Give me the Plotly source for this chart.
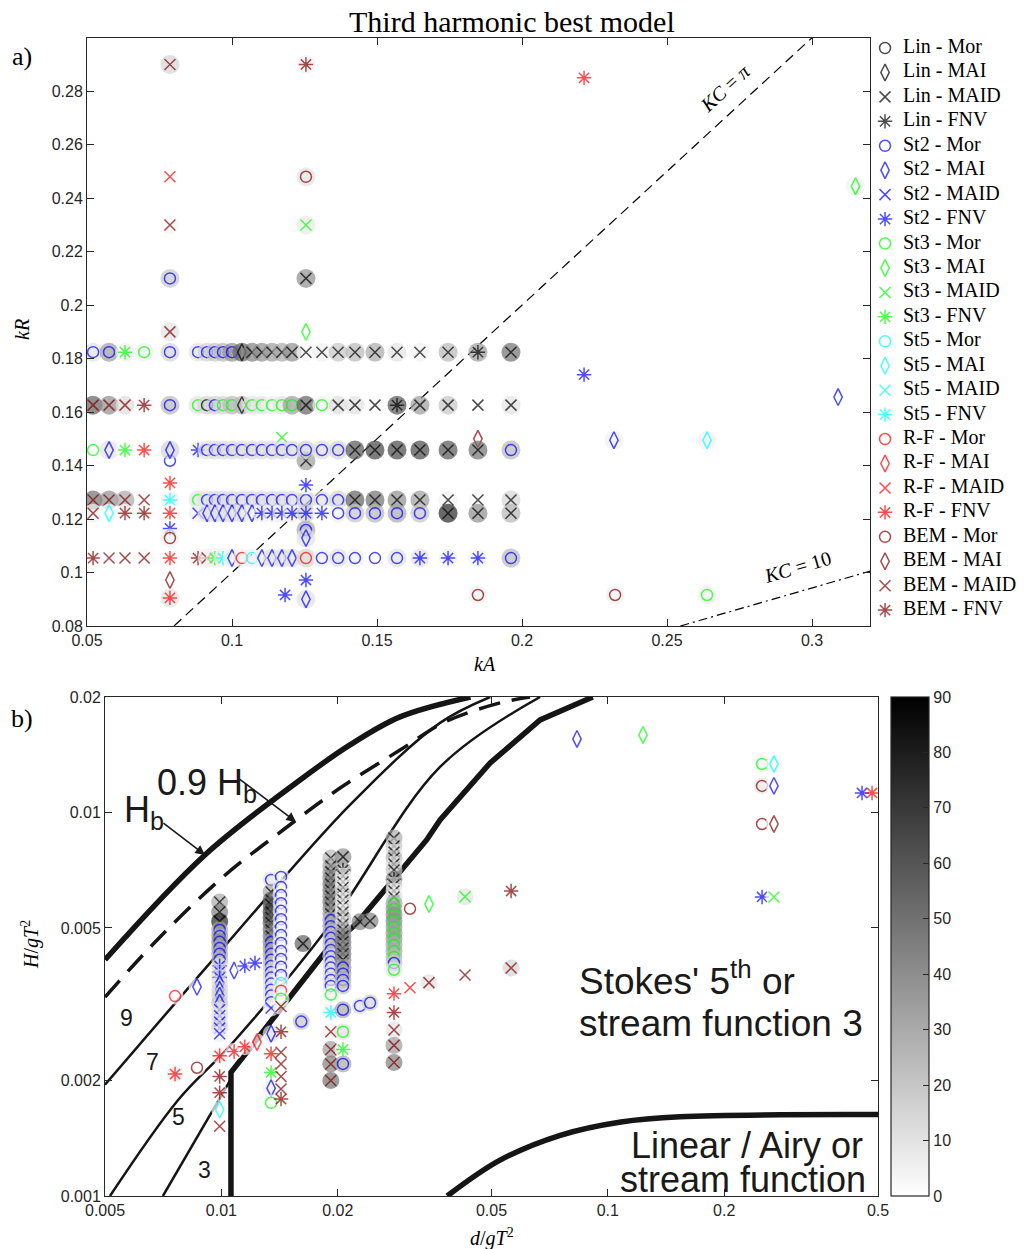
import numpy as np
import plotly.graph_objects as go
from plotly.colors import sample_colorscale

# ---------------- model styling ----------------
THEORY_COLORS = {"Lin": "#000000", "St2": "#0000FF", "St3": "#00FF00",
                 "St5": "#00FFFF", "R-F": "#FF0000", "BEM": "#800000"}
FORCE_SYMBOLS = {"Mor": "circle-open", "MAI": "diamond-tall-open",
                 "MAID": "x-thin-open", "FNV": "asterisk-open"}
FORCE_SIZE = {"Mor": 11, "MAI": 12, "MAID": 11, "FNV": 12}
theories = ["Lin", "St2", "St3", "St5", "R-F", "BEM"]
forces = ["Mor", "MAI", "MAID", "FNV"]
legend_labels = [f"{t} - {f}" for t in theories for f in forces]
GREY = [[0, "rgb(255,255,255)"], [1, "rgb(0,0,0)"]]

# ---------------- panel a) data ----------------
kA_grid = [0.0521, 0.0576, 0.0631, 0.0697, 0.0786,
           0.0883, 0.0914, 0.0941, 0.0969, 0.1000, 0.1034, 0.1069, 0.1103,
           0.1138, 0.1172, 0.1207, 0.1255,
           0.1310, 0.1366, 0.1424, 0.1493, 0.1569, 0.1648, 0.1745, 0.1848, 0.1962]

row_kR = [0.1824, 0.1626, 0.1458, 0.1271, 0.1222, 0.1054]

row1_model = ["St2-Mor", "St2-Mor", "St3-FNV", "St3-Mor", "St2-Mor",
              "St2-Mor", "St2-Mor", "St2-Mor", "St2-Mor", "St2-Mor", "Lin-MAI", "Lin-MAID", "Lin-MAID",
              "Lin-MAID", "Lin-MAID", "Lin-MAID", "Lin-MAID",
              "Lin-MAID", "Lin-MAID", "Lin-MAID", "Lin-MAID", "Lin-MAID", "Lin-MAID", "Lin-MAID", "Lin-FNV", "Lin-MAID"]
row1_bg = [10, 35, 5, 5, 15, 10, 15, 20, 25, 40, 55, 45, 40, 35, 30, 40, 3, 5, 20, 25, 30, 10, 5, 25, 35, 50]

row2_model = ["BEM-MAID", "BEM-MAID", "BEM-MAID", "BEM-FNV", "St2-Mor",
              "St3-Mor", "Lin-Mor", "St2-Mor", "St3-Mor", "St3-Mor", "Lin-MAI", "St3-Mor", "St3-Mor",
              "St3-Mor", "St3-Mor", "St3-Mor", "Lin-MAID",
              "St3-Mor", "Lin-MAID", "Lin-MAID", "Lin-MAID", "Lin-FNV", "Lin-MAID", "Lin-MAID", "Lin-MAID", "Lin-MAID"]
row2_bg = [55, 40, 12, 3, 25, 10, 15, 15, 15, 25, 25, 10, 10, 5, 10, 35, 55, 5, 12, 10, 0, 60, 35, 20, 0, 10]

row3_model = ["St3-Mor", "St2-MAI", "St3-FNV", "R-F-FNV", "St2-MAI",
              "St2-FNV", "St2-Mor", "St2-Mor", "St2-Mor", "St2-Mor", "St2-Mor", "St2-Mor", "St2-Mor",
              "St2-Mor", "St2-Mor", "St2-Mor", "St2-Mor",
              "St2-Mor", "St2-Mor", "Lin-MAID", "Lin-MAID", "Lin-MAID", "Lin-MAID", "Lin-MAID", "Lin-MAID", "St2-Mor"]
row3_bg = [0, 10, 0, 0, 15, 5, 10, 12, 12, 12, 12, 12, 12, 12, 12, 12, 15, 12, 15, 60, 65, 65, 65, 60, 50, 25]

row4_model = ["BEM-MAID", "BEM-MAID", "BEM-MAID", "BEM-MAID", "St5-FNV",
              "St3-Mor", "St2-Mor", "St2-Mor", "St2-Mor", "St2-Mor", "St2-Mor", "St2-Mor", "St2-Mor",
              "St2-Mor", "St2-Mor", "St2-Mor", "St2-Mor",
              "St2-Mor", "St2-Mor", "Lin-MAID", "Lin-MAID", "Lin-MAID", "Lin-MAID", "Lin-MAID", "Lin-MAID", "Lin-MAID"]
row4_bg = [50, 40, 30, 3, 5, 10, 10, 12, 12, 12, 12, 12, 12, 12, 12, 12, 15, 10, 15, 55, 50, 40, 35, 5, 3, 15]

row5_model = ["BEM-MAID", "St5-MAI", "BEM-FNV", "BEM-FNV", "R-F-FNV",
              "St2-MAID", "St2-MAI", "St2-MAI", "St2-MAI", "St2-MAI", "St2-MAI", "St2-MAI", "St2-FNV",
              "St2-FNV", "St2-FNV", "St2-FNV", "St2-FNV",
              "St2-FNV", "St2-Mor", "St2-Mor", "St2-Mor", "St2-Mor", "St2-Mor", "Lin-MAID", "Lin-MAID", "Lin-MAID"]
row5_bg = [5, 0, 0, 0, 0, 5, 10, 10, 10, 10, 10, 5, 5, 5, 5, 5, 15, 0, 5, 20, 25, 30, 20, 75, 40, 25]

row6_model = ["BEM-FNV", "BEM-MAID", "BEM-MAID", "BEM-MAID", "R-F-FNV",
              "BEM-FNV", "BEM-MAID", "St3-FNV", "St5-FNV", "St2-MAI", "R-F-Mor", "St5-Mor", "St2-MAI",
              "St2-MAI", "St2-MAI", "St2-MAI", "R-F-Mor",
              "St2-Mor", "St2-Mor", "St2-Mor", "St2-Mor", "St2-Mor", "St2-FNV", "St2-FNV", "St2-FNV", "St2-Mor"]
row6_bg = [0, 0, 0, 3, 0, 5, 5, 5, 5, 5, 5, 5, 5, 10, 10, 10, 15, 5, 10, 5, 0, 10, 10, 5, 5, 25]

# isolated points partly hidden by the rows (drawn first)
pre_kA = [0.1172, 0.1848, 0.1255, 0.0786]
pre_kR = [0.1505, 0.1500, 0.1418, 0.1418]
pre_model = ["St3-MAID", "BEM-MAI", "Lin-MAID", "St2-Mor"]
pre_bg = [0, 0, 35, 0]

# isolated points drawn on top
post_kA = [0.0786, 0.1255, 0.2214, 0.0786, 0.1255, 0.3150, 0.0786, 0.1255, 0.0786, 0.1255,
           0.0786, 0.1255, 0.2214, 0.3090, 0.2317, 0.2638, 0.0786, 0.1255, 0.0786, 0.0786,
           0.1255, 0.1255, 0.0786, 0.1255, 0.1183, 0.0786, 0.1255, 0.1848, 0.2321, 0.2638]
post_kR = [0.2900, 0.2900, 0.2850, 0.2480, 0.2480, 0.2445, 0.2300, 0.2300, 0.2100, 0.2100,
           0.1900, 0.1900, 0.1740, 0.1656, 0.1495, 0.1495, 0.1335, 0.1327, 0.1165, 0.1129,
           0.1159, 0.1129, 0.0972, 0.0972, 0.0916, 0.0905, 0.0900, 0.0916, 0.0916, 0.0916]
post_model = ["BEM-MAID", "BEM-FNV", "R-F-FNV", "R-F-MAID", "BEM-Mor", "St3-MAI", "BEM-MAID", "St3-MAID",
              "St2-Mor", "Lin-MAID", "BEM-MAID", "St3-MAI", "St2-FNV", "St2-MAI", "St2-MAI", "St5-MAI",
              "R-F-FNV", "St2-FNV", "St2-FNV", "BEM-Mor", "St2-Mor", "St2-MAI", "BEM-MAI", "St2-FNV",
              "St2-FNV", "R-F-FNV", "St2-MAI", "BEM-Mor", "BEM-Mor", "St3-Mor"]
post_bg = [15, 5, 0, 0, 10, 5, 3, 8, 20, 40, 10, 0, 0, 0, 5, 5, 0, 0, 0, 5,
           30, 10, 0, 0, 0, 10, 10, 5, 5, 5]

# reference lines KC = pi (kR = kA) and KC = 10
kc_pi_kA = [0.08, 0.30]
kc_pi_kR = [0.08, 0.30]
kc_10_kA = [0.2546, 0.32]
kc_10_kR = [0.08, 0.1005]

# ---------------- panel b) data ----------------
bot_d = ([0.00759, 0.00865, 0.00759, 0.00865] +
         [0.0099] * 26 +
         [0.01079, 0.0115, 0.01222, 0.01079, 0.0115, 0.01237] +
         [0.01345] * 26 +
         [0.01427] * 23 +
         [0.01627, 0.0161] +
         [0.0192] * 28 +
         [0.02064] * 25 +
         [0.02284, 0.02425, 0.02284, 0.02425] +
         [0.02797] * 27 +
         [0.03077, 0.03445, 0.03077, 0.03445, 0.0427, 0.0562, 0.0427, 0.0562,
          0.0832, 0.1233, 0.2506, 0.269, 0.2506, 0.269, 0.2506, 0.269, 0.2506, 0.269, 0.4546, 0.4826])
bot_H = ([0.00332, 0.00351, 0.00208, 0.00216] +
         [0.00584, 0.0055, 0.0052, 0.00494, 0.00476, 0.0046, 0.00443, 0.00428, 0.00413, 0.00398,
          0.00384, 0.00371, 0.00358, 0.00345, 0.00333, 0.00319, 0.00306, 0.00295, 0.00284, 0.00274,
          0.00265, 0.00232, 0.00205, 0.00186, 0.00168, 0.00152] +
         [0.00387, 0.00398, 0.00405, 0.00238, 0.00245, 0.00252] +
         [0.00667, 0.0062, 0.00591, 0.00575, 0.0055, 0.00532, 0.00516, 0.00494, 0.00476, 0.0046,
          0.00443, 0.00428, 0.00413, 0.00398, 0.00384, 0.00371, 0.00358, 0.00345, 0.00333, 0.0032,
          0.00309, 0.00265, 0.00235, 0.0021, 0.00191, 0.00175] +
         [0.00679, 0.00639, 0.00609, 0.0058, 0.00554, 0.00527, 0.00503, 0.00479, 0.00457, 0.00435,
          0.00415, 0.00396, 0.00377, 0.00359, 0.00343, 0.00327, 0.00312, 0.00268, 0.00237, 0.00221,
          0.00205, 0.0019, 0.00179] +
         [0.00455, 0.00285] +
         [0.00761, 0.00725, 0.007, 0.00675, 0.00651, 0.00628, 0.00606, 0.00584, 0.00564, 0.00544,
          0.00524, 0.00505, 0.00488, 0.00471, 0.00454, 0.00438, 0.00422, 0.00408, 0.00394, 0.0038,
          0.00366, 0.00353, 0.00335, 0.00301, 0.00268, 0.00241, 0.00221, 0.002] +
         [0.00766, 0.00708, 0.00683, 0.00659, 0.00637, 0.00613, 0.00591, 0.00571, 0.0055, 0.00531,
          0.00512, 0.00494, 0.00476, 0.0046, 0.00443, 0.00428, 0.00413, 0.00394, 0.0038, 0.00366,
          0.00353, 0.00306, 0.00268, 0.00241, 0.00221] +
         [0.00519, 0.00521, 0.00313, 0.00319] +
         [0.00858, 0.00818, 0.00788, 0.00761, 0.00734, 0.00708, 0.0067, 0.00647, 0.00624, 0.00602,
          0.0058, 0.0056, 0.0054, 0.00521, 0.00503, 0.00485, 0.00468, 0.00451, 0.00435, 0.0042,
          0.00405, 0.00389, 0.00337, 0.00301, 0.00271, 0.00247, 0.00223] +
         [0.00561, 0.00577, 0.00349, 0.0036, 0.00603, 0.00624, 0.00377, 0.00393,
          0.01555, 0.01593, 0.01338, 0.01338, 0.01173, 0.01173, 0.00933, 0.00933, 0.00602, 0.00602,
          0.01124, 0.01124])
bot_model = (["R-F-Mor", "St2-MAI", "R-F-FNV", "BEM-Mor"] +
             ["Lin-MAID"] * 3 + ["St2-Mor"] * 6 + ["St2-FNV"] * 3 + ["St2-MAI"] * 4 + ["St2-MAID"] * 5 +
             ["R-F-FNV", "BEM-FNV", "BEM-FNV", "St5-MAI", "BEM-MAID"] +
             ["St2-MAI", "St2-FNV", "St2-FNV", "R-F-FNV", "R-F-FNV", "R-F-MAI"] +
             ["St2-Mor"] + ["Lin-MAID"] * 8 + ["St2-Mor"] * 11 +
             ["St2-MAID", "St2-MAI", "R-F-FNV", "St3-FNV", "St2-MAI", "St3-Mor"] +
             ["St2-Mor"] * 13 + ["St5-Mor", "R-F-Mor", "St3-Mor", "BEM-MAID"] +
             ["BEM-FNV", "BEM-MAID", "BEM-MAID", "BEM-MAID", "BEM-MAID", "BEM-FNV"] +
             ["Lin-MAID", "St2-Mor"] +
             ["Lin-MAID"] * 10 + ["St2-Mor"] * 12 + ["St3-Mor", "St5-FNV"] + ["BEM-MAID"] * 4 +
             ["Lin-MAID", "Lin-FNV"] + ["Lin-MAID"] * 15 + ["St2-Mor"] * 5 + ["St3-Mor", "St3-FNV", "St2-Mor"] +
             ["Lin-MAID", "Lin-MAID", "St2-Mor", "St2-Mor"] +
             ["Lin-MAID"] * 6 + ["Lin-FNV"] + ["Lin-MAID"] * 3 + ["St3-Mor"] * 10 + ["St2-Mor", "St3-Mor"] +
             ["R-F-FNV", "BEM-FNV", "BEM-MAID", "BEM-MAID", "BEM-MAID"] +
             ["BEM-Mor", "St3-MAI", "R-F-MAID", "BEM-MAID", "St3-MAID", "BEM-FNV", "BEM-MAID", "BEM-MAID",
              "St2-MAI", "St3-MAI", "St3-Mor", "St5-MAI", "BEM-Mor", "St2-MAI", "BEM-Mor", "BEM-MAI",
              "St2-FNV", "St3-MAID", "St2-FNV", "R-F-FNV"])
bot_bg = ([0, 0, 5, 0] +
          [30, 45, 75, 30, 35, 40, 30, 30, 25, 10, 10, 10, 10, 15, 15, 20, 10, 10, 10, 15, 5, 5, 0, 0, 0, 0] +
          [0, 0, 0, 0, 0, 0] +
          [10, 30, 50, 60, 65, 60, 55, 50, 45, 40, 35, 30, 25, 20, 15, 15, 10, 10, 10, 5, 5, 10, 0, 0, 5, 0] +
          [5, 3, 3, 3, 3, 3, 3, 3, 3, 3, 3, 3, 3, 3, 3, 3, 3, None, None, None, None, None, None] +
          [55, 20] +
          [25, 30, 35, 40, 45, 45, 40, 45, 40, 35, 30, 30, 25, 25, 20, 20, 15, 15, 10, 10, 10, 10, 5, 5, 5, 35, 45, 50] +
          [40, 30, 5, 10, 5, 20, 5, 10, 5, 20, 10, 30, 40, 45, 40, 45, 40, 35, 30, 25, 20, 30, 10, 0, 30] +
          [45, 45, 10, 15] +
          [30, 20, 10, 25, 10, 20, 40, 15, 5, 10, 30, 35, 40, 40, 35, 35, 35, 30, 30, 25, 20, 10, 0, 0, 10, 35, 45] +
          [0, 0, 0, 10, 10, 0, 0, 15, None, None, 5, 3, 8, 0, 0, 0, None, 0, None, None])

# background diagram curves (Le Mehaute type)
hb_d = [0.005, 0.00907, 0.01598, 0.02152, 0.0290, 0.0441]
hb_H = [0.00413, 0.00775, 0.01215, 0.0150, 0.01775, 0.0200]
hb09_d = [0.005, 0.00682, 0.0101, 0.01444, 0.02028, 0.0290, 0.0379, 0.0526, 0.0629]
hb09_H = [0.0033, 0.00465, 0.00679, 0.0090, 0.01158, 0.01455, 0.01722, 0.0193, 0.0200]
sf97_d = [0.005, 0.0101, 0.02152, 0.0368, 0.0496]
sf97_H = [0.00195, 0.00443, 0.01046, 0.01712, 0.0200]
sf75_d = [0.00515, 0.00773, 0.01059, 0.0191, 0.0368, 0.0668]
sf75_H = [0.0010, 0.00178, 0.00248, 0.00509, 0.01314, 0.0200]
sf53_d = [0.00706, 0.01053]
sf53_H = [0.0010, 0.0020]
urs_d = [0.01059, 0.01059, 0.01874, 0.02244, 0.03397, 0.0368, 0.0496, 0.0668, 0.0914]
urs_H = [0.0010, 0.0021, 0.00438, 0.00515, 0.00848, 0.00956, 0.01346, 0.01743, 0.0200]
lin_d = [0.0384, 0.0526, 0.0753, 0.1081, 0.1536, 0.5]
lin_H = [0.0010, 0.00124, 0.00144, 0.00156, 0.00161, 0.00163]

cb_ticks = list(range(0, 91, 10))


def grey(v):
    return sample_colorscale(GREY, [v / 90.0])[0]


def build(xs, ys, models, bgs, bg_size):
    X, Y, S, C, Z, W = [], [], [], [], [], []
    for x, y, m, b in zip(xs, ys, models, bgs):
        if b is not None:
            X.append(x); Y.append(y); S.append("circle"); C.append(grey(b)); Z.append(bg_size); W.append(0)
        th, fo = m.rsplit("-", 1)
        X.append(x); Y.append(y); S.append(FORCE_SYMBOLS[fo]); C.append(THEORY_COLORS[th])
        Z.append(FORCE_SIZE[fo]); W.append(1.5)
    return X, Y, S, C, Z, W


fig = go.Figure()
AX = "#262626"
INK = "#151515"

# ---- panel a lines
fig.add_trace(go.Scatter(x=kc_pi_kA, y=kc_pi_kR, mode="lines", line=dict(color="black", width=1.2, dash="10px,6px"),
                         showlegend=False, hoverinfo="skip", xaxis="x", yaxis="y"))
fig.add_trace(go.Scatter(x=kc_10_kA, y=kc_10_kR, mode="lines",
                         line=dict(color="black", width=1.2, dash="9px,4px,2px,4px"),
                         showlegend=False, hoverinfo="skip", xaxis="x", yaxis="y"))

# ---- panel a points
xs, ys, ms, bs = list(pre_kA), list(pre_kR), list(pre_model), list(pre_bg)
rows_m = [row1_model, row2_model, row3_model, row4_model, row5_model, row6_model]
rows_b = [row1_bg, row2_bg, row3_bg, row4_bg, row5_bg, row6_bg]
for kr, rm, rb in zip(row_kR, rows_m, rows_b):
    xs += kA_grid; ys += [kr] * len(kA_grid); ms += rm; bs += rb
xs += post_kA; ys += post_kR; ms += post_model; bs += post_bg
X, Y, S, C, Z, W = build(xs, ys, ms, bs, 19)
fig.add_trace(go.Scatter(x=X, y=Y, mode="markers", showlegend=False, hoverinfo="skip",
                         marker=dict(symbol=S, color=C, size=Z, line=dict(width=W)), xaxis="x", yaxis="y"))

# ---- panel b curves
curve_style = [(hb_d, hb_H, 5.5, "solid", "spline"), (hb09_d, hb09_H, 3.5, "22px,12px", "spline"),
               (sf97_d, sf97_H, 2.5, "solid", "spline"), (sf75_d, sf75_H, 2.5, "solid", "spline"),
               (sf53_d, sf53_H, 2.5, "solid", "linear"), (urs_d, urs_H, 5.5, "solid", "linear"),
               (lin_d, lin_H, 5.5, "solid", "spline")]
for cx, cy, w, dsh, shp in curve_style:
    fig.add_trace(go.Scatter(x=cx, y=cy, mode="lines", line=dict(color=INK, width=w, dash=dsh, shape=shp),
                             showlegend=False, hoverinfo="skip", xaxis="x2", yaxis="y2"))

X, Y, S, C, Z, W = build(bot_d, bot_H, bot_model, bot_bg, 17)
fig.add_trace(go.Scatter(x=X, y=Y, mode="markers", showlegend=False, hoverinfo="skip",
                         marker=dict(symbol=S, color=C, size=Z, line=dict(width=W)), xaxis="x2", yaxis="y2"))

# colourbar carrier
fig.add_trace(go.Scatter(x=[None], y=[None], mode="markers", showlegend=False, hoverinfo="skip",
                         marker=dict(color=[0], coloraxis="coloraxis"), xaxis="x2", yaxis="y2"))

# ---- legend (drawn on its own hidden axes so the row spacing matches)
leg_pos = list(range(len(legend_labels)))
leg_sym = [FORCE_SYMBOLS[f] for t in theories for f in forces]
leg_col = [THEORY_COLORS[t] for t in theories for f in forces]
leg_size = [FORCE_SIZE[f] for t in theories for f in forces]
fig.add_trace(go.Scatter(x=[0] * len(leg_pos), y=leg_pos, mode="markers", showlegend=False, hoverinfo="skip",
                         marker=dict(symbol=leg_sym, color=leg_col, size=leg_size, line=dict(width=1.5)),
                         xaxis="x3", yaxis="y3"))
fig.add_trace(go.Scatter(x=[1] * len(leg_pos), y=leg_pos, mode="text", text=legend_labels,
                         textposition="middle right", showlegend=False, hoverinfo="skip",
                         textfont=dict(family="Liberation Serif", size=20, color="black"),
                         xaxis="x3", yaxis="y3"))

W_, H_ = 1024, 1249


def px(x):
    return x / W_


def py(y):
    return 1 - y / H_


tickfont = dict(family="Liberation Sans", size=16, color=AX)
common = dict(showgrid=False, zeroline=False, showline=True, linecolor=AX, linewidth=1, mirror="ticks",
              ticks="inside", ticklen=7, tickcolor=AX, tickfont=tickfont, automargin=False)

fig.update_layout(
    template="none",
    width=W_, height=H_, margin=dict(l=0, r=0, t=0, b=0, autoexpand=False),
    paper_bgcolor="white", plot_bgcolor="rgba(0,0,0,0)",
    xaxis=dict(domain=[px(87), px(870)], range=[0.05, 0.32], tick0=0.05, dtick=0.05, anchor="y", **common),
    yaxis=dict(domain=[py(626), py(38)], range=[0.08, 0.2999], tick0=0.08, dtick=0.02, anchor="x", **common),
    xaxis2=dict(domain=[px(105), px(878)], type="log", range=[np.log10(0.005), np.log10(0.5)],
                tickvals=[0.005, 0.01, 0.02, 0.05, 0.1, 0.2, 0.5],
                ticktext=["0.005", "0.01", "0.02", "0.05", "0.1", "0.2", "0.5"], anchor="y2", **common),
    yaxis2=dict(domain=[py(1196), py(697)], type="log", range=[-3, np.log10(0.02)],
                tickvals=[0.001, 0.002, 0.005, 0.01, 0.02],
                ticktext=["0.001", "0.002", "0.005", "0.01", "0.02"], anchor="x2", **common),
    xaxis3=dict(domain=[px(868), px(1024)], range=[-0.95, 7.75], visible=False, fixedrange=True, anchor="y3"),
    yaxis3=dict(domain=[py(626), py(38)], range=[23.65, -0.41], visible=False, fixedrange=True, anchor="x3"),
    coloraxis=dict(cmin=0, cmax=90, colorscale=GREY,
                   colorbar=dict(x=px(891), xanchor="left", xpad=0, ypad=0, y=py(697), yanchor="top",
                                 len=499, lenmode="pixels", thickness=38, thicknessmode="pixels",
                                 outlinewidth=1.2, outlinecolor=AX, tickvals=cb_ticks, ticks="inside",
                                 ticklen=6, tickcolor=AX, tickfont=tickfont)),
    showlegend=False,
)

serif = "Liberation Serif"
sans = "Liberation Sans"
ann = [
    dict(x=px(512), y=py(22), text="Third harmonic best model", font=dict(family=serif, size=30, color="black")),
    dict(x=px(22), y=py(57), text="a)", font=dict(family=serif, size=26, color="black")),
    dict(x=px(22), y=py(718), text="b)", font=dict(family=serif, size=26, color="black")),
    dict(x=px(485), y=py(664), text="<i>kA</i>", font=dict(family=serif, size=20, color="black")),
    dict(x=px(22), y=py(330), text="<i>kR</i>", textangle=-90, font=dict(family=serif, size=20, color="black")),
    dict(x=px(492), y=py(1237), text="<i>d</i>/<i>gT</i><sup>2</sup>", font=dict(family=serif, size=20, color="black")),
    dict(x=px(30), y=py(945), text="<i>H</i>/<i>gT</i><sup>2</sup>", textangle=-90,
         font=dict(family=serif, size=20, color="black")),
    dict(x=px(725), y=py(88), text="<i>KC</i> = <i>π</i>", textangle=-42.7, font=dict(family=serif, size=20, color="black")),
    dict(x=px(797), y=py(567), text="<i>KC</i> = 10", textangle=-16.2, font=dict(family=serif, size=20, color="black")),
    dict(x=px(577), y=py(978), xanchor="left", text="Stokes' 5<sup>th</sup> or", font=dict(family=sans, size=37, color="#1a1a1a")),
    dict(x=px(577), y=py(1023), xanchor="left", text="stream function 3", font=dict(family=sans, size=37, color="#1a1a1a")),
    dict(x=px(865), y=py(1145), xanchor="right", text="Linear / Airy or", font=dict(family=sans, size=36, color="#1a1a1a")),
    dict(x=px(868), y=py(1179), xanchor="right", text="stream function", font=dict(family=sans, size=36, color="#1a1a1a")),
    dict(x=px(155), y=py(785), xanchor="left", text="0.9 H<sub>b</sub>", font=dict(family=sans, size=36, color="#1a1a1a")),
    dict(x=px(122), y=py(812), xanchor="left", text="H<sub>b</sub>", font=dict(family=sans, size=36, color="#1a1a1a")),
    dict(x=px(126), y=py(1018), text="9", font=dict(family=sans, size=23, color="#1a1a1a")),
    dict(x=px(152), y=py(1062), text="7", font=dict(family=sans, size=23, color="#1a1a1a")),
    dict(x=px(178), y=py(1117), text="5", font=dict(family=sans, size=23, color="#1a1a1a")),
    dict(x=px(204), y=py(1170), text="3", font=dict(family=sans, size=23, color="#1a1a1a")),
]
for a in ann:
    a.setdefault("xref", "paper"); a.setdefault("yref", "paper"); a.setdefault("showarrow", False)
    a.setdefault("xanchor", "center"); a.setdefault("yanchor", "middle")
fig.update_layout(annotations=ann)

# arrows pointing at the breaking curves
fig.add_annotation(x=np.log10(0.00907), y=np.log10(0.00775), xref="x2", yref="y2", text="", showarrow=True,
                   arrowhead=2, arrowsize=1.2, arrowwidth=1.6, arrowcolor="#1a1a1a", ax=-43, ay=-33)
fig.add_annotation(x=np.log10(0.0156), y=np.log10(0.00945), xref="x2", yref="y2", text="", showarrow=True,
                   arrowhead=2, arrowsize=1.2, arrowwidth=1.6, arrowcolor="#1a1a1a", ax=-58, ay=-44)

fig.write_html("out.html", config={"displayModeBar": False},
               post_script="document.body.style.margin='0px';")
